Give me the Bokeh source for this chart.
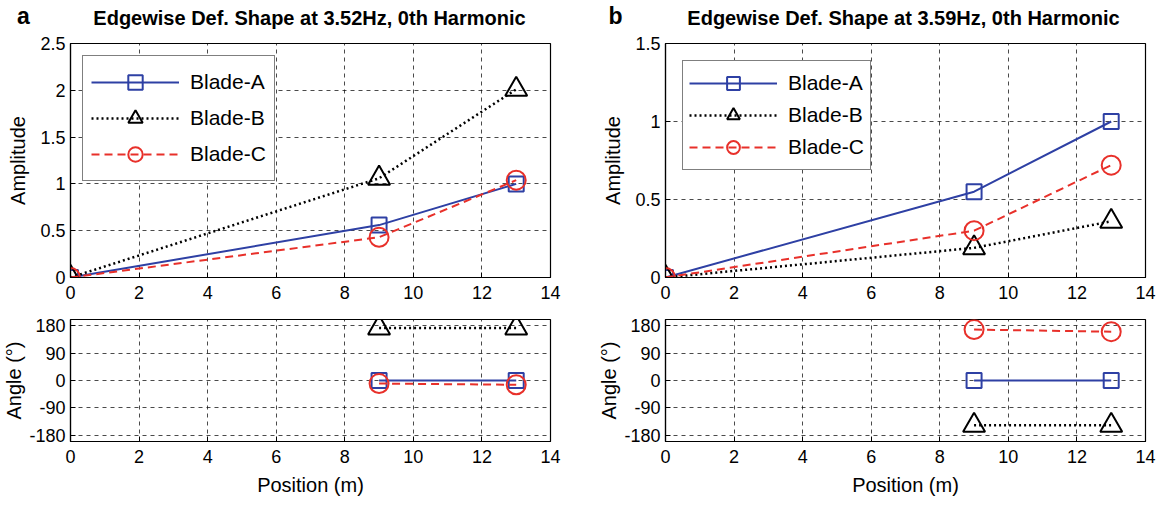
from bokeh.plotting import figure
from bokeh.layouts import column, row
from bokeh.models import (Range1d, FixedTicker, CustomJSTickFormatter, Legend,
                          LegendItem)
from bokeh.core.properties import value
from bokeh.embed import file_html
from bokeh.resources import INLINE

# ---------------- data ----------------
positions = [0, 9, 13]
ang_positions = [9, 13]
x_ticks = [0, 2, 4, 6, 8, 10, 12, 14]
angle_ticks = [-180, -90, 0, 90, 180]

titles = ["Edgewise Def. Shape at 3.52Hz, 0th Harmonic",
          "Edgewise Def. Shape at 3.59Hz, 0th Harmonic"]
panel_letters = ["a", "b"]
blade_names = ["Blade-A", "Blade-B", "Blade-C"]

# panel a
amp_a_A = [0, 0.56, 1.0]
amp_a_B = [0, 1.06, 2.01]
amp_a_C = [0, 0.43, 1.04]
ang_a_A = [0, 0]
ang_a_B = [172, 172]
ang_a_C = [-10, -14]
amp_a_ticks = [0, 0.5, 1, 1.5, 2, 2.5]

# panel b
amp_b_A = [0, 0.55, 1.0]
amp_b_B = [0, 0.19, 0.36]
amp_b_C = [0, 0.30, 0.72]
ang_b_A = [0, 0]
ang_b_B = [-147, -147]
ang_b_C = [167, 160]
amp_b_ticks = [0, 0.5, 1, 1.5]

# ---------------- style / layout ----------------
FONT = "Liberation Sans"
COLORS = ["#2e40a4", "#000000", "#e8302a"]
DASHES = ["solid", "2 3", "8 5"]
MARKERS = ["square", "triangle", "circle"]
MSIZES = [15, 22, 19]
LWIDTHS = [2, 2.5, 2]

BORDER_L = 69
FRAME_W = 480
BORDER_R = [45, 18]
HEADER_H = 30
TOP_H = 234
BOT_H = 122

fmt = CustomJSTickFormatter(code="return tick.toString();")


def style(p, yticks):
    for ax in p.xaxis + p.yaxis:
        ax.major_tick_in = 5
        ax.major_tick_out = 0
        ax.minor_tick_line_color = None
        ax.axis_line_color = "black"
        ax.axis_line_width = 1.2
        ax.major_tick_line_color = "black"
        ax.major_label_text_font = FONT
        ax.major_label_text_font_size = "18px"
        ax.major_label_text_color = "black"
        ax.axis_label_text_font = FONT
        ax.axis_label_text_font_size = "20px"
        ax.axis_label_text_font_style = "normal"
        ax.axis_label_text_color = "black"
    p.xaxis.ticker = FixedTicker(ticks=x_ticks)
    p.yaxis.ticker = FixedTicker(ticks=yticks)
    p.xaxis.formatter = fmt
    p.yaxis.formatter = fmt
    p.yaxis.major_label_standoff = 5
    p.xaxis.major_label_standoff = 8
    for g in p.xgrid + p.ygrid:
        g.grid_line_color = "#111111"
        g.grid_line_dash = "4 4"
        g.grid_line_width = 0.9
        g.grid_line_alpha = 0.85
    p.outline_line_color = "black"
    p.outline_line_width = 1.2
    p.background_fill_color = "white"
    p.border_fill_color = "white"


def top_panel(amps, yticks, border_right, legend_cfg):
    p = figure(frame_width=FRAME_W, frame_height=TOP_H,
               x_range=Range1d(0, 14), y_range=Range1d(yticks[0], yticks[-1]),
               min_border_left=BORDER_L, min_border_right=border_right,
               min_border_top=43 - HEADER_H, min_border_bottom=33,
               output_backend="svg", toolbar_location=None)
    p.yaxis.axis_label = "Amplitude"
    p.yaxis.axis_label_standoff = 8
    style(p, yticks)
    items = []
    for i, ys in enumerate(amps):
        lr = p.line(positions, ys, line_color=COLORS[i], line_dash=DASHES[i],
                    line_width=LWIDTHS[i])
        sr = p.scatter(positions, ys, marker=MARKERS[i], size=MSIZES[i],
                       fill_color=None, line_color=COLORS[i], line_width=2)
        items.append(LegendItem(label=blade_names[i], renderers=[lr, sr]))
    gh, pad, gw, margin = legend_cfg
    leg = Legend(items=items, location="top_left", glyph_height=gh,
                 glyph_width=gw, spacing=0, padding=pad, margin=margin,
                 label_standoff=11, label_text_font=FONT,
                 label_text_font_size="21px", label_text_color="black",
                 border_line_color="black", border_line_width=1.2,
                 background_fill_color="white", background_fill_alpha=1.0)
    p.add_layout(leg, "center")
    return p


def bottom_panel(angs, border_right):
    p = figure(frame_width=FRAME_W, frame_height=BOT_H,
               x_range=Range1d(0, 14), y_range=Range1d(-200, 200),
               min_border_left=BORDER_L, min_border_right=border_right,
               min_border_top=9, min_border_bottom=64,
               output_backend="svg", toolbar_location=None)
    p.yaxis.axis_label = "Angle (\u00b0)"
    p.yaxis.axis_label_standoff = 1
    p.xaxis.axis_label = "Position (m)"
    p.xaxis.axis_label_standoff = 8
    style(p, angle_ticks)
    for i, ys in enumerate(angs):
        p.line(ang_positions, ys, line_color=COLORS[i], line_dash=DASHES[i],
               line_width=LWIDTHS[i])
        p.scatter(ang_positions, ys, marker=MARKERS[i], size=MSIZES[i],
                  fill_color=None, line_color=COLORS[i], line_width=2)
    return p


# header strip carrying panel letters and titles (pixel-like ranges)
col_w = [BORDER_L + FRAME_W + BORDER_R[0], BORDER_L + FRAME_W + BORDER_R[1]]
total_w = sum(col_w)
hdr = figure(width=total_w, height=HEADER_H, x_range=Range1d(0, total_w),
             y_range=Range1d(0, HEADER_H), min_border=0,
             output_backend="svg", toolbar_location=None)
hdr.axis.visible = False
hdr.grid.visible = False
hdr.outline_line_color = None
title_x = [BORDER_L + FRAME_W / 2, col_w[0] + BORDER_L + FRAME_W / 2]
letter_x = [BORDER_L - 46, col_w[0] + BORDER_L - 48]
hdr.text(x=title_x, y=[HEADER_H - 17] * 2, text=titles,
         text_font=value(FONT), text_font_size="20px",
         text_font_style="bold", text_align="center",
         text_baseline="middle", text_color="black")
hdr.text(x=letter_x, y=[HEADER_H - 15] * 2, text=panel_letters,
         text_font=value(FONT), text_font_size="23px",
         text_font_style="bold", text_align="center",
         text_baseline="middle", text_color="black")

pa_top = top_panel([amp_a_A, amp_a_B, amp_a_C], amp_a_ticks, BORDER_R[0],
                   (36, 8, 88, 12))
pa_bot = bottom_panel([ang_a_A, ang_a_B, ang_a_C], BORDER_R[0])
pb_top = top_panel([amp_b_A, amp_b_B, amp_b_C], amp_b_ticks, BORDER_R[1],
                   (32, 6, 88, 17))
pb_bot = bottom_panel([ang_b_A, ang_b_B, ang_b_C], BORDER_R[1])

layout = column(hdr, row(column(pa_top, pa_bot), column(pb_top, pb_bot)))

open("out.html", "w").write(file_html(layout, INLINE))
